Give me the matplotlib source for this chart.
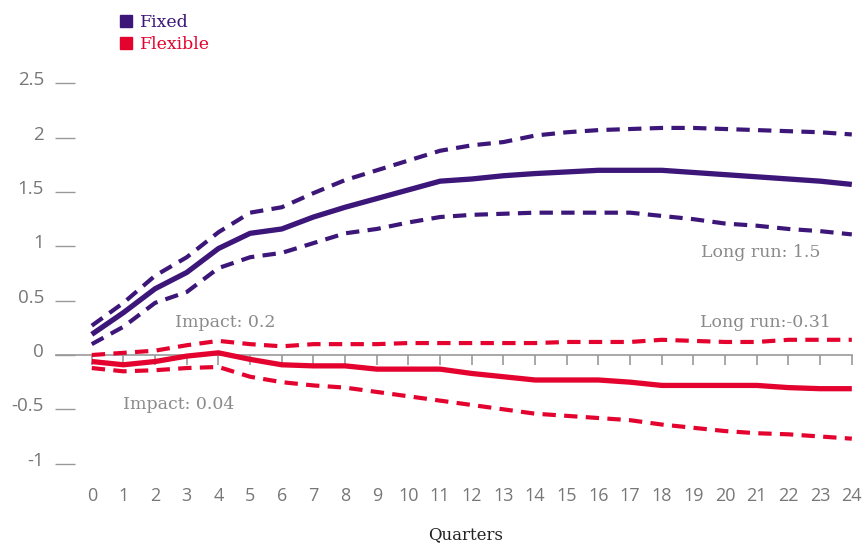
import matplotlib
matplotlib.use("Agg")
import matplotlib.pyplot as plt
import matplotlib.transforms as mtransforms
from matplotlib.lines import Line2D
import numpy as np

quarters = list(range(25))

fixed = [0.19, 0.39, 0.61, 0.76, 0.98, 1.12, 1.16, 1.27, 1.36, 1.44, 1.52, 1.60, 1.62,
         1.65, 1.67, 1.685, 1.70, 1.70, 1.70, 1.68, 1.66, 1.64, 1.62, 1.60, 1.57]
fixed_upper = [0.27, 0.48, 0.73, 0.90, 1.13, 1.31, 1.36, 1.49, 1.61, 1.70, 1.79, 1.88, 1.93,
               1.96, 2.02, 2.05, 2.07, 2.08, 2.09, 2.09, 2.08, 2.07, 2.06, 2.05, 2.03]
fixed_lower = [0.10, 0.26, 0.48, 0.58, 0.80, 0.90, 0.94, 1.03, 1.12, 1.16, 1.22, 1.27, 1.29,
               1.30, 1.31, 1.31, 1.31, 1.31, 1.28, 1.25, 1.21, 1.19, 1.16, 1.14, 1.11]

flexible = [-0.06, -0.09, -0.06, -0.01, 0.02, -0.04, -0.09, -0.10, -0.10, -0.13, -0.13, -0.13,
            -0.17, -0.20, -0.23, -0.23, -0.23, -0.25, -0.28, -0.28, -0.28, -0.28, -0.30, -0.31, -0.31]
flexible_upper = [0.00, 0.02, 0.04, 0.09, 0.13, 0.10, 0.08, 0.10, 0.10, 0.10, 0.11, 0.11, 0.11,
                  0.11, 0.11, 0.12, 0.12, 0.12, 0.14, 0.13, 0.12, 0.12, 0.14, 0.14, 0.14]
flexible_lower = [-0.12, -0.15, -0.14, -0.12, -0.11, -0.20, -0.25, -0.28, -0.30, -0.34, -0.38, -0.42,
                  -0.46, -0.50, -0.54, -0.56, -0.58, -0.60, -0.64, -0.67, -0.70, -0.72, -0.73, -0.75, -0.77]

yticks = [-1, -0.5, 0, 0.5, 1, 1.5, 2, 2.5]
ytick_labels = ['-1', '-0.5', '0', '0.5', '1', '1.5', '2', '2.5']

purple = '#3c1678'
red = '#e4032e'
grey = '#8a8a8a'
serif = 'DejaVu Serif'

fig = plt.figure(figsize=(8.64, 5.44), dpi=100)
ax = fig.add_axes([0.0868, 0.1377, 0.9046, 0.729])

dash = (0, (3.2, 2.0))
ax.plot(quarters, fixed_upper, color=purple, lw=3, linestyle=dash)
ax.plot(quarters, fixed_lower, color=purple, lw=3, linestyle=dash)
ax.plot(quarters, fixed, color=purple, lw=3.8, solid_capstyle='butt')
ax.plot(quarters, flexible_upper, color=red, lw=3, linestyle=dash)
ax.plot(quarters, flexible_lower, color=red, lw=3, linestyle=dash)
ax.plot(quarters, flexible, color=red, lw=3.8, solid_capstyle='butt')

# zero line with small quarter ticks
ax.axhline(0, xmin=-0.0243, xmax=0.994, color='#999999', lw=1.2, clip_on=False, zorder=1)
ax.vlines(quarters, -0.09, 0, color='#999999', lw=1.2, zorder=1)

ax.set_xlim(-0.53, 24.15)
ax.set_ylim(-1.05, 2.6)

for s in ax.spines.values():
    s.set_visible(False)

ax.set_xticks(quarters)
ax.set_xticklabels([str(q) for q in quarters])
ax.tick_params(axis='x', length=0, pad=13, labelsize=13, labelcolor='#777777')
ax.set_yticks(yticks)
ax.set_yticklabels(ytick_labels)
ax.tick_params(axis='y', length=14.4, width=1, color='#999999', pad=8,
               labelsize=13.5, labelcolor='#777777')
for lab in ax.get_xticklabels() + ax.get_yticklabels():
    lab.set_family('Open Sans')
offset = mtransforms.ScaledTranslation(0, 0.05, fig.dpi_scale_trans)
for lab in ax.get_yticklabels():
    lab.set_transform(lab.get_transform() + offset)

ax.set_xlabel('Quarters', family=serif, fontsize=12, color='#222222', labelpad=15)

ax.text(2.62, 0.30, 'Impact: 0.2', family=serif, fontsize=12.5, color=grey, va='center', ha='left')
ax.text(0.98, -0.46, 'Impact: 0.04', family=serif, fontsize=12.5, color=grey, va='center', ha='left')
ax.text(23.0, 0.94, 'Long run: 1.5', family=serif, fontsize=12.5, color=grey, va='center', ha='right')
ax.text(23.35, 0.30, 'Long run:-0.31', family=serif, fontsize=12.5, color=grey, va='center', ha='right')

handles = [Line2D([], [], marker='s', color=purple, linestyle='none', markersize=9),
           Line2D([], [], marker='s', color=red, linestyle='none', markersize=9)]
leg = fig.legend(handles, ['Fixed', 'Flexible'], loc='upper left',
                 bbox_to_anchor=(110 / 864, 1 - 5 / 544), frameon=False,
                 handlelength=0.8, handletextpad=0.45, labelspacing=0.3, borderpad=0,
                 prop={'family': serif, 'size': 12.5})
for txt, c in zip(leg.get_texts(), [purple, red]):
    txt.set_color(c)

fig.savefig('out.png', dpi=100)
